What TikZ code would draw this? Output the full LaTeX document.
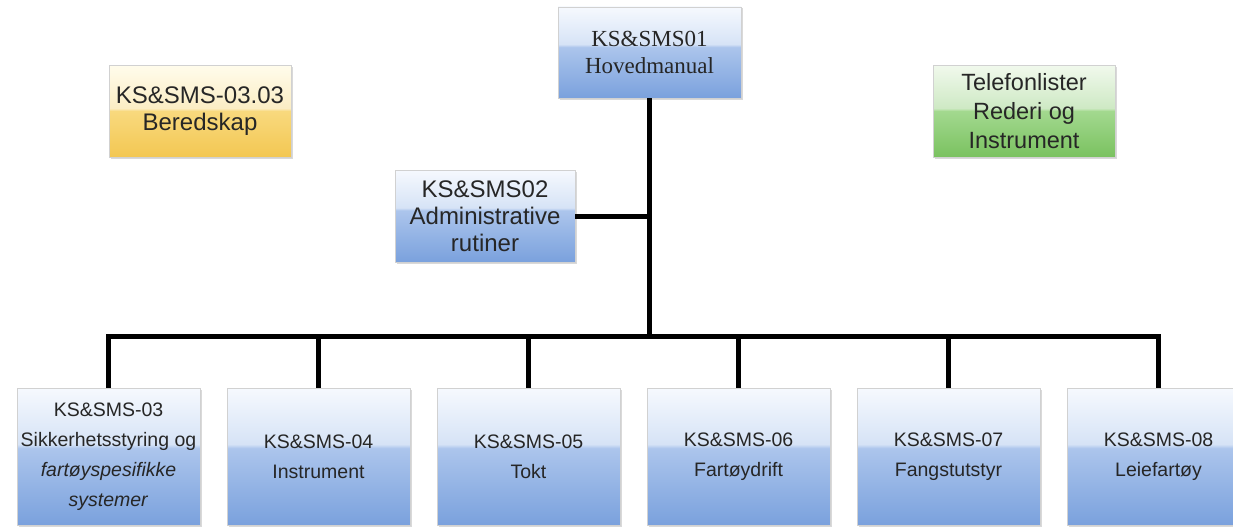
\documentclass[tikz,border=0pt]{standalone}
\usepackage{fontspec}
\setmainfont{Liberation Sans}
\newfontfamily\serifbox{Liberation Serif}
\usetikzlibrary{shadows}

\definecolor{blueTop}{RGB}{246,249,254}
\definecolor{bluePale}{RGB}{214,227,246}
\definecolor{blueMid}{RGB}{172,197,236}
\definecolor{blueBot}{RGB}{122,161,221}
\definecolor{yelTop}{RGB}{255,252,236}
\definecolor{yelPale}{RGB}{251,237,196}
\definecolor{yelMid}{RGB}{248,217,126}
\definecolor{yelBot}{RGB}{243,199,82}
\definecolor{grnTop}{RGB}{241,249,237}
\definecolor{grnPale}{RGB}{206,233,196}
\definecolor{grnMid}{RGB}{163,217,143}
\definecolor{grnBot}{RGB}{122,194,96}

\pgfdeclareverticalshading{glossblue}{100bp}{color(0bp)=(blueBot); color(25bp)=(blueBot);
  color(53bp)=(blueMid); color(54.5bp)=(bluePale); color(75bp)=(blueTop); color(100bp)=(blueTop)}
\pgfdeclareverticalshading{glossyel}{100bp}{color(0bp)=(yelBot); color(25bp)=(yelBot);
  color(50bp)=(yelMid); color(51.5bp)=(yelPale); color(75bp)=(yelTop); color(100bp)=(yelTop)}
\pgfdeclareverticalshading{glossgrn}{100bp}{color(0bp)=(grnBot); color(25bp)=(grnBot);
  color(50bp)=(grnMid); color(51.5bp)=(grnPale); color(75bp)=(grnTop); color(100bp)=(grnTop)}

\tikzstyle{box}=[draw=black!18,thin,align=center,text=black!85,inner sep=0pt,
  drop shadow={opacity=0.3,shadow xshift=1.5pt,shadow yshift=-1.5pt}]
\tikzstyle{bluebox}=[box,shade,shading=glossblue]
\tikzstyle{midbox}=[minimum width=182pt,minimum height=92pt,font=\fontsize{24}{27}\selectfont]
\tikzstyle{lowbox}=[bluebox,minimum width=183pt,minimum height=137pt,font=\fontsize{19.5}{30}\selectfont]
\tikzstyle{conn}=[draw,line width=5pt,-]

\begin{document}
\begin{tikzpicture}[x=1pt,y=-1pt]
    \useasboundingbox (0,0) rectangle (1233,527);
    % First we draw the upper boxes
    \node[bluebox, minimum width=183pt, minimum height=91pt,
          font=\serifbox\fontsize{23}{27}\selectfont] (main) at (649.5,52.5) {KS\&SMS01\\Hovedmanual};
    \node[box, midbox, shade, shading=glossyel] (bered) at (200,111) {KS\&SMS-03.03\\Beredskap};
    \node[box, midbox, shade, shading=glossgrn, font=\fontsize{23.5}{29}\selectfont]
          (tlf) at (1024,111) {Telefonlister\\Rederi og\\Instrument};
    \node[bluebox, midbox, minimum width=180pt] (adm) at (485,216) {KS\&SMS02\\Administrative\\rutiner};
    % Then the row of manuals at the bottom
    \node[lowbox] (k3) at (108.5,456.5)
          {KS\&SMS-03\\Sikkerhetsstyring og\\\textit{fartøyspesifikke}\\\textit{systemer}};
    \foreach \x/\num/\txt in {{318.5/4/Instrument}, {528.5/5/Tokt}, {738.5/6/Fartøydrift},
                              {948.5/7/Fangstutstyr}, {1158.5/8/Leiefartøy}}
        \node[lowbox] (k\num) at (\x,456.5) {KS\&SMS-0\num\\\txt};
    % Connect the boxes
    \coordinate (bus) at (0,336);
    \path[conn] (main.south) -- (main.south |- bus);
    \path[conn] (adm.east) -- (adm.east -| main.south);
    \path[conn] (k3.north) -- (k3.north |- bus) -- (k8.north |- bus) -- (k8.north);
    \foreach \num in {4,5,6,7}
        \path[conn] (k\num.north) -- (k\num.north |- bus);
\end{tikzpicture}
\end{document}
